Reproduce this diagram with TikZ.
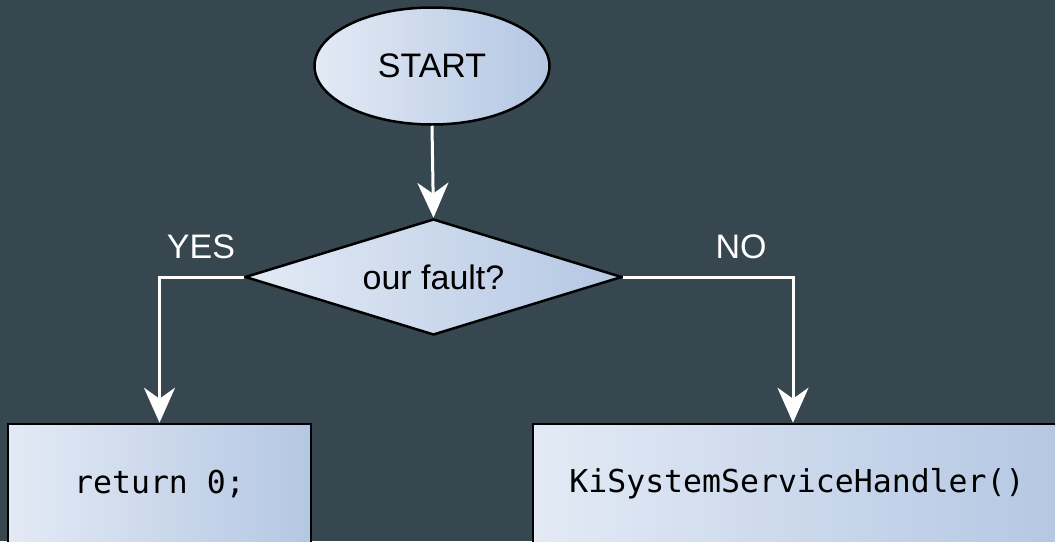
\documentclass[tikz,border=0pt]{standalone}
\usepackage{fontspec}
\setmainfont{Liberation Sans}
\newfontfamily\codefont{DejaVu Sans Mono}
\usetikzlibrary{shapes.geometric,arrows.meta}

\definecolor{bgslate}{RGB}{55,71,79}
\definecolor{fillL}{RGB}{227,234,245}
\definecolor{fillR}{RGB}{180,199,227}

\tikzset{
  shapebase/.style={draw=black, line width=2.5pt, left color=fillL, right color=fillR,
    inner sep=0pt, font=\fontsize{34}{40}\selectfont},
  startshape/.style={shapebase, ellipse, minimum width=235pt, minimum height=117pt},
  decision/.style={shapebase, diamond, aspect=3.25, minimum width=377pt, minimum height=116pt},
  codebox/.style={shapebase, rectangle, minimum height=120pt,
    font=\codefont\fontsize{31.5}{36}\selectfont},
  flow/.style={color=white, line width=3pt,
    -{Stealth[length=35pt, width=31pt, inset=11pt]}},
  branch/.style={text=white, font=\fontsize{34}{40}\selectfont, inner sep=0pt}
}

\begin{document}
% units: 1pt, origin at the top-left corner, y measured upwards (negative below)
\begin{tikzpicture}[x=1pt, y=1pt]
  % canvas; the page ends at the bottom edge, so the boxes run off it
  \fill[bgslate] (0,0) rectangle (1055,-541);
  \useasboundingbox (0,0) rectangle (1055,-541);

  % nodes
  \node[startshape] (start) at (432,-66) {START};
  \node[decision] (fault) at (433.5,-277) {our fault?};
  \node[codebox, minimum width=303pt] (ret) at (159.5,-484) {return 0;};
  \node[codebox, minimum width=528pt] (ksh) at (797,-484) {KiSystemServiceHandler()};

  % branch labels
  \node[branch] (yes) at (201,-247) {YES};
  \node[branch] (no) at (741,-247) {NO};

  % connectors
  \draw[flow] (start.south) -- (fault.north);
  \draw[flow] (fault.west) -| (ret.north);
  \draw[flow] (fault.east) -| ([xshift=-4pt]ksh.north);
\end{tikzpicture}
\end{document}
